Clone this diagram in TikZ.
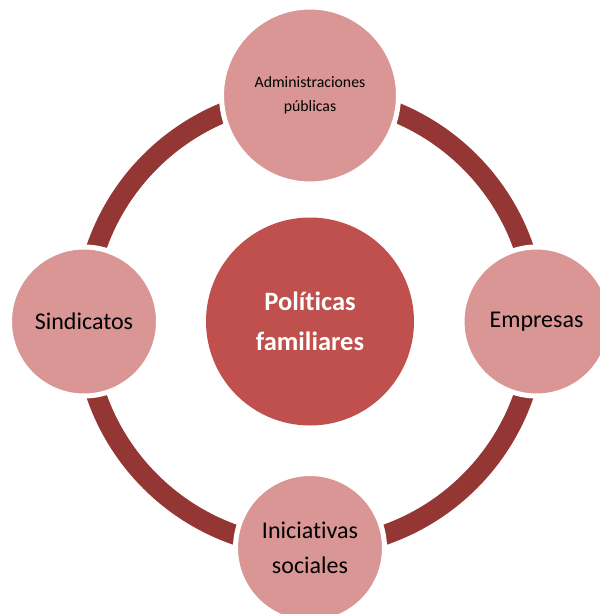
\documentclass[tikz,border=0pt]{standalone}
\usepackage{fontspec}
\setmainfont{Carlito}[Ligatures={NoCommon}]
\definecolor{hubred}{HTML}{C0504D}
\definecolor{petal}{HTML}{D99694}
\definecolor{ringred}{HTML}{943634}
\begin{document}
\begin{tikzpicture}[x=1pt,y=-1pt,
  petalnode/.style={circle, fill=petal, draw=white, line width=5pt, inner sep=0pt,
    align=center, text=black, font=\fontsize{24}{35.5}\selectfont},
  hubnode/.style={circle, fill=hubred, inner sep=0pt, minimum size=208pt,
    align=center, text=white, font=\fontsize{26.5}{40}\selectfont\bfseries}]
  \useasboundingbox (0,0) rectangle (600,614);
  \clip (0,0) rectangle (600,614);
  % centre of the layout
  \coordinate (c) at (310,321.5);
  % connecting ring
  \draw[ringred, line width=20pt] (c) circle (226);
  % central topic
  \node[hubnode] (hub) at (c) {Políticas\\familiares};
  % surrounding actors
  \node[petalnode, minimum size=177pt, font=\fontsize{15.8}{24}\selectfont] (adm) at (310,95.5)
    {Administraciones\\públicas};
  \node[petalnode, minimum size=149pt] (emp) at (536.5,321.5) {Empresas};
  \node[petalnode, minimum size=149pt] (ini) at (310,548) {Iniciativas\\sociales};
  \node[petalnode, minimum size=149pt] (sin) at (84,321.5) {Sindicatos};
\end{tikzpicture}
\end{document}
